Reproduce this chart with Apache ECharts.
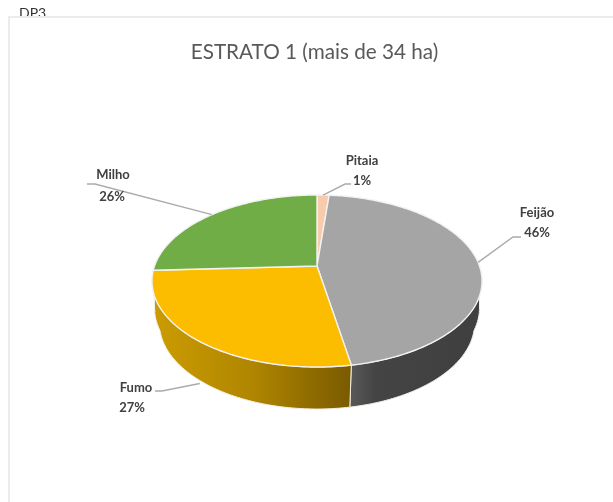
<!DOCTYPE html>
<html>
<head>
<meta charset="utf-8">
<style>html,body{margin:0;padding:0;background:#fff}#c{width:613px;height:502px}</style>
<script src="https://cdn.jsdelivr.net/npm/echarts@6/dist/echarts.min.js"></script>
</head>
<body>
<div id="c"></div>
<script>
var categories = ['Pitaia', 'Feijão', 'Fumo', 'Milho'];
var values = [1.4, 45.8, 27, 25.8];
var topColors = ['#F8CBAD', '#A5A5A5', '#FCBC00', '#70AD47'];
var wallStops = [
  [[0, '#C09A80'], [1, '#8A6A55']],
  [[0, '#5A5A5A'], [0.2, '#444444'], [1, '#3F3F3F']],
  [[0, '#CC9C00'], [0.5, '#B08600'], [1, '#795A00']],
  [[0, '#4F7A32'], [1, '#3C5E26']]
];
var labelLayout = [
  {x: 362, y: 161, y2: 181, x2: 362, elbow: [345, 184], end: [351, 184]},
  {x: 537, y: 213, y2: 233, x2: 537, elbow: [513, 237], end: [521, 237]},
  {x: 136, y: 388, y2: 408, x2: 132, elbow: [162, 391], end: [155, 391]},
  {x: 113, y: 175, y2: 197, x2: 112, elbow: [95, 184], end: [87, 184]}
];
var titleText = 'ESTRATO 1 (mais de 34 ha)';

// Perspective projection of the pie disc
var CX = 317, CY = 266, A = 162.5, B = 83.4, K = 0.1744, DEPTH = 42;
function rim(deg, sx, dy) {
  var t = deg * Math.PI / 180;
  var x = Math.sin(t), y = -Math.cos(t), d = 1 - K * y;
  return [CX + (sx || 1) * A * x / d, CY + (dy || 0) + B * y / d];
}
// The lower edge of the wall tucks in just past the widest point of the disc
function lowerEdge(deg) {
  var off = Math.min(Math.abs(deg - 90), Math.abs(deg - 270));
  return rim(deg, 1 - 0.045 * Math.min(1, off / 15), DEPTH);
}
var total = values.reduce(function (a, b) { return a + b; }, 0);
var starts = [], run = 0;
values.forEach(function (v) { starts.push(run); run += v; });

function sweep(a0, a1, fn) {
  var pts = [], n = Math.max(2, Math.ceil(Math.abs(a1 - a0)));
  for (var i = 0; i <= n; i++) pts.push(fn(a0 + (a1 - a0) * i / n));
  return pts;
}

function renderItem(params, api) {
  var i = params.dataIndex, v = api.value(0);
  var a0 = starts[i] / total * 360, a1 = a0 + v / total * 360, mid = (a0 + a1) / 2;
  var kids = [];
  // side wall (only the part facing the viewer)
  var w0 = Math.max(a0, 90), w1 = Math.min(a1, 270);
  if (w1 > w0) {
    kids.push({
      type: 'polygon', z2: 1,
      shape: {points: sweep(w0, w1, function (d) { return rim(d); }).concat(sweep(w1, w0, lowerEdge))},
      style: {
        fill: new echarts.graphic.LinearGradient(0, 0, 1, 0, wallStops[i].map(function (s) {
          return {offset: s[0], color: s[1]};
        })),
        stroke: '#F4EFE4', lineWidth: 1
      }
    });
  }
  // top face
  kids.push({
    type: 'polygon', z2: 2,
    shape: {points: [[CX, CY]].concat(sweep(a0, a1, function (d) { return rim(d); }))},
    style: {fill: topColors[i], stroke: '#F2F2F2', lineWidth: 1.4, lineJoin: 'round'}
  });
  // leader line
  var L = labelLayout[i];
  var anchor = rim(mid, 1, (mid > 90 && mid < 270) ? DEPTH : 0);
  kids.push({
    type: 'polyline', z2: 3,
    shape: {points: [anchor, L.elbow, L.end]},
    style: {fill: null, stroke: '#ABABAB', lineWidth: 1.4}
  });
  // labels
  var font = 'bold 13px Lato, "Open Sans", sans-serif';
  kids.push({type: 'text', z2: 4, style: {text: categories[i], x: L.x, y: L.y, font: font, fill: '#404040', align: 'center', verticalAlign: 'middle'}});
  kids.push({type: 'text', z2: 4, style: {text: Math.round(v / total * 100) + '%', x: L.x2, y: L.y2, font: font, fill: '#404040', align: 'center', verticalAlign: 'middle'}});
  return {type: 'group', children: kids};
}

var chart = echarts.init(document.getElementById('c'), null, {renderer: 'canvas'});
chart.setOption({
  animation: false,
  backgroundColor: '#fff',
  title: {
    text: titleText, left: 309.5, top: 37, textAlign: 'center',
    textStyle: {fontFamily: 'Lato', fontWeight: 'normal', fontSize: 20.7, color: '#595959'}
  },
  graphic: [
    {type: 'text', z: -2, style: {text: 'DP3', x: 19, y: 6, font: '14px Lato', fill: '#333'}},
    {type: 'rect', z: -1, shape: {x: 9, y: 17, width: 800, height: 700}, style: {fill: '#fff', stroke: '#ECECEC', lineWidth: 2}}
  ],
  series: [{
    type: 'custom',
    coordinateSystem: 'none',
    renderItem: renderItem,
    data: values.map(function (v, i) { return {name: categories[i], value: [v]}; }),
    silent: true
  }]
});
</script>
</body>
</html>
